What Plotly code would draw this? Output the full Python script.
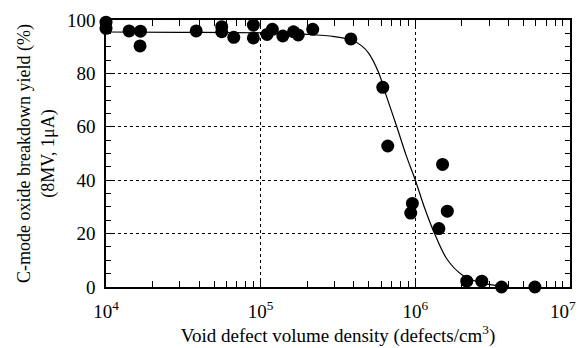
import plotly.graph_objects as go

# Measured data points
density = [1.0e4, 1.0e4, 1.41e4, 1.67e4, 1.66e4, 3.83e4, 5.6e4, 5.6e4, 6.7e4,
           8.97e4, 8.97e4, 1.10e5, 1.19e5, 1.39e5, 1.63e5, 1.75e5, 2.17e5,
           3.83e5, 6.16e5, 6.63e5, 1.50e6, 9.57e5, 9.34e5, 1.61e6, 1.42e6,
           2.15e6, 2.69e6, 3.61e6, 5.93e6]
yield_pct = [99.2, 96.9, 95.9, 95.8, 90.3, 95.9, 97.5, 95.6, 93.5,
             98.1, 93.3, 94.6, 96.5, 94.0, 95.6, 94.4, 96.5,
             92.9, 74.8, 52.8, 45.9, 31.3, 27.7, 28.4, 21.9,
             2.2, 2.2, 0.0, 0.0]

# Fitted curve
curve_x = [1.0e4, 3.0e4, 1.0e5, 2.0e5, 3.0e5, 3.83e5, 4.5e5, 5.0e5, 5.77e5,
           6.5e5, 7.59e5, 8.7e5, 1.0e6, 1.15e6, 1.31e6, 1.6e6, 2.0e6, 2.5e6, 3.0e6, 3.5e6]
curve_y = [95.5, 95.4, 95.2, 94.6, 93.8, 92.6, 90.3, 87.5, 80.5,
           71.5, 60.0, 49.5, 40.0, 29.5, 21.0, 10.5, 4.6, 2.0, 1.0, 0.5]

x_major = [1e4, 1e5, 1e6, 1e7]
x_labels = ["10<sup>4</sup>", "10<sup>5</sup>", "10<sup>6</sup>",
            "10<sup>7</sup>&nbsp;&nbsp;&nbsp;"]
x_minor = [m * 10**e for e in (4, 5, 6) for m in range(2, 10)]
y_major = [0, 20, 40, 60, 80, 100]

font_family = "Liberation Serif"

fig = go.Figure()
fig.add_trace(go.Scatter(x=curve_x, y=curve_y, mode="lines",
                         line=dict(color="black", width=1.2, shape="spline"),
                         hoverinfo="skip", showlegend=False))
fig.add_trace(go.Scatter(x=density, y=yield_pct, mode="markers",
                         marker=dict(color="black", size=13),
                         cliponaxis=False, showlegend=False))

fig.update_layout(
    width=579, height=348,
    margin=dict(l=106, r=9, t=20, b=61),
    plot_bgcolor="white", paper_bgcolor="white",
    font=dict(family=font_family, color="black", size=18),
    xaxis=dict(
        type="log", range=[4, 7], automargin=False,
        tickvals=x_major, ticktext=x_labels, ticklabeloverflow="allow",
        ticklabelstandoff=6,
        ticks="inside", ticklen=7, tickcolor="black", tickwidth=1,
        showline=True, linecolor="black", linewidth=1.5, mirror="allticks",
        showgrid=True, gridcolor="black", griddash="dot", gridwidth=1,
        minor=dict(tickvals=x_minor, ticks="inside", ticklen=6,
                   tickcolor="black", showgrid=False),
        tickfont=dict(size=19, family=font_family),
        title=dict(text="Void defect volume density (defects/cm<sup>3</sup>)",
                   font=dict(size=19, family=font_family), standoff=8),
        zeroline=False,
    ),
    yaxis=dict(
        range=[0, 100], tickvals=y_major, ticklabeloverflow="allow",
        ticklabelstandoff=5,
        automargin=False,
        ticks="inside", ticklen=7, tickcolor="black", tickwidth=1,
        showline=True, linecolor="black", linewidth=1.5, mirror="allticks",
        showgrid=True, gridcolor="black", griddash="dot", gridwidth=1,
        minor=dict(dtick=5, ticks="inside", ticklen=5, tickcolor="black",
                   showgrid=False),
        tickfont=dict(size=19, family=font_family),
        title=dict(text="C-mode oxide breakdown yield (%)<br>(8MV, 1μA)",
                   font=dict(size=18, family=font_family), standoff=8),
        zeroline=False,
    ),
)

fig.write_html("out.html")
